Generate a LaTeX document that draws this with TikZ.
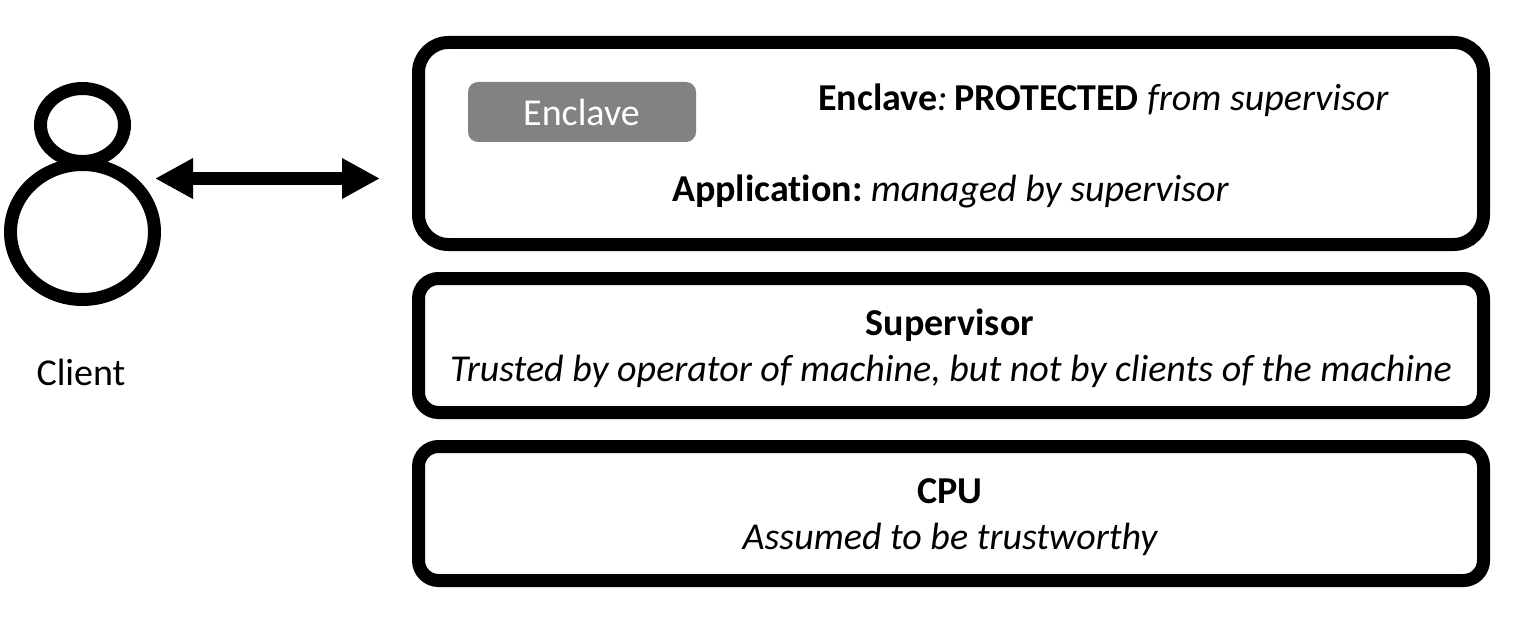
\documentclass[tikz,border=0pt]{standalone}
\usepackage{fontspec}
\setmainfont[Ligatures=NoCommon]{Carlito}
\usetikzlibrary{arrows.meta,shapes.geometric}
\tikzset{
  x=0.5pt,y=-0.5pt,
  layerbox/.style={draw=black,line width=6.5pt,rounded corners=#1,inner sep=0pt},
  person/.style={draw=black,line width=6.5pt,ellipse,inner sep=0pt,outer sep=0pt},
  lbl/.style={inner sep=0pt,anchor=base,font=\fontsize{19}{23}\selectfont,text=black},
  link/.style={line width=6.5pt,{Triangle[length=19pt,width=19pt]}-{Triangle[length=19pt,width=19pt]}}
}
\begin{document}
\begin{tikzpicture}
\useasboundingbox (0,0) rectangle (1534,636);
\node[person,minimum width=72pt,minimum height=67.5pt] (body) at (82.5,232) {};
\node[person,minimum width=42pt,minimum height=36.5pt] (head) at (82.5,125) {};
\draw[layerbox=15pt] (418.5,42.5) rectangle (1483.5,244.5);
\draw[layerbox=10pt] (418.5,278.5) rectangle (1483.5,412.5);
\draw[layerbox=10pt] (418.5,446.5) rectangle (1483.5,580.5);
\coordinate (appedge) at (380,178.5);
\coordinate (clientedge) at (155,178.5);
\draw[link] (clientedge) -- (appedge);
\node[fill=black!49,rounded corners=5pt,minimum width=114pt,minimum height=30pt,inner sep=0pt] (enclave) at (582,112) {};
\node[lbl,text=white] (enclavetext) at (581.5,126) {Enclave};
\node[lbl] (client) at (81,385) {Client};
\node[lbl] (prot) at (1103.5,111) {\textbf{Enclave}\textit{:}\hspace{-2.4pt} \textbf{PROTECTED} \textit{from supervisor}};
\node[lbl] (app) at (950.5,201) {\textbf{Application:}\hspace{-1.5pt} \textit{managed by supervisor}};
\node[lbl] (sup) at (950,335) {\textbf{Supervisor}};
\node[lbl] (suptext) at (951,381) {\textit{Trusted by operator of machine, but not by clients of the machine}};
\node[lbl] (cpu) at (950,503) {\textbf{CPU}};
\node[lbl] (cputext) at (950.5,549) {\textit{Assumed to be trustworthy}};
\end{tikzpicture}
\end{document}
